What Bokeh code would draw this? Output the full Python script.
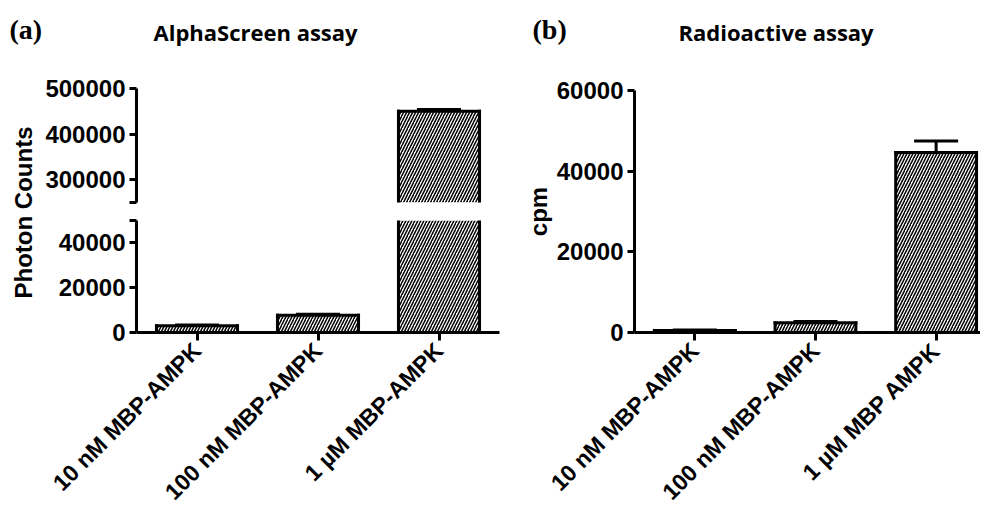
import math
from bokeh.plotting import figure
from bokeh.models import (Range1d, FixedTicker, Whisker, TeeHead, ColumnDataSource,
                          BasicTickFormatter)
from bokeh.layouts import row, column
from bokeh.embed import file_html
from bokeh.resources import INLINE
from bokeh.core.properties import value

# ---------------- data ----------------
categories_a = ["10 nM MBP-AMPK", "100 nM MBP-AMPK", "1 \u00b5M MBP-AMPK"]
photon_counts = [3000, 7700, 450000]
photon_sem = [400, 500, 4000]

categories_b = ["10 nM MBP-AMPK", "100 nM MBP-AMPK", "1 \u00b5M MBP AMPK"]
cpm_values = [500, 2400, 44600]
cpm_sem = [150, 300, 2900]

ticks_a_upper = [250000, 300000, 400000, 500000]
ticks_a_lower = [0, 20000, 40000, 50000]
ticks_b = [0, 20000, 40000, 60000]

titles = ["AlphaScreen assay", "Radioactive assay"]
panel_tags = ["(a)", "(b)"]
y_labels = ["Photon Counts", "cpm"]

# ---------------- style ----------------
SANS = "Liberation Sans"
TICK_FONT = "24px"
CAT_FONT = "23px"
PX_PER_CAT = 121.0
BAR_W = 0.67
FRAME_W_A = 363
FRAME_W_B = 347


def base_style(p):
    p.outline_line_color = None
    p.grid.visible = False
    p.background_fill_color = "white"
    p.border_fill_color = "white"


def style_axis(ax):
    ax.axis_line_width = 3
    ax.axis_line_color = "black"
    ax.major_tick_line_width = 3
    ax.major_tick_line_color = "black"
    ax.major_tick_out = 7
    ax.major_tick_in = 0
    ax.minor_tick_line_color = None
    ax.major_label_text_font = SANS
    ax.major_label_text_font_style = "bold"
    ax.major_label_text_color = "black"


def draw_bars(p, cats, vals, errs, lo, hi):
    """Bars for one axis segment [lo, hi]; outlines drawn only where they fall inside."""
    pos = list(range(1, len(cats) + 1))
    half = BAR_W / 2
    shown = [(x, v) for x, v in zip(pos, vals) if v > lo]
    bars = ColumnDataSource(dict(x=[s[0] for s in shown], top=[s[1] for s in shown],
                                 left=[s[0] - half for s in shown],
                                 right=[s[0] + half for s in shown]))
    p.vbar(x="x", top="top", bottom=0, width=BAR_W, source=bars,
           fill_color="white", line_color=None,
           hatch_pattern="/", hatch_color="black", hatch_scale=6, hatch_weight=1.5)
    for side in ("left", "right"):
        p.segment(x0=side, y0=0, x1=side, y1="top", source=bars,
                  line_color="black", line_width=3, line_cap="square")
    tops = [(x, v) for x, v in zip(pos, vals) if lo <= v <= hi]
    top_src = ColumnDataSource(dict(top=[t[1] for t in tops],
                                    left=[t[0] - half for t in tops],
                                    right=[t[0] + half for t in tops]))
    p.segment(x0="left", y0="top", x1="right", y1="top", source=top_src,
              line_color="black", line_width=3, line_cap="square")
    errs_in = [(x, v, e) for x, v, e in zip(pos, vals, errs) if lo <= v <= hi]
    err_src = ColumnDataSource(dict(x=[t[0] for t in errs_in],
                                    lower=[t[1] for t in errs_in],
                                    upper=[t[1] + t[2] for t in errs_in]))
    p.add_layout(Whisker(source=err_src, base="x", lower="lower", upper="upper",
                         dimension="height", line_color="black", line_width=3,
                         lower_head=None,
                         upper_head=TeeHead(size=44, line_color="black", line_width=3)))


def y_ticks(ax, ticks, blank=None):
    ax.ticker = FixedTicker(ticks=ticks)
    ax.formatter = BasicTickFormatter(use_scientific=False)
    if blank is not None:
        ax.major_label_overrides = {blank: ""}
    ax.major_label_text_font_size = TICK_FONT
    ax.major_label_standoff = 4


def x_cats(ax, cats):
    pos = list(range(1, len(cats) + 1))
    ax.ticker = FixedTicker(ticks=pos)
    ax.major_label_overrides = {p_: c for p_, c in zip(pos, cats)}
    ax.major_label_orientation = math.pi / 4
    ax.major_label_text_font_size = CAT_FONT
    ax.major_label_standoff = 6
    ax.major_tick_out = 8


# ---------------- header ----------------
TOTAL_W = 980
header = figure(width=TOTAL_W, height=68, x_range=Range1d(0, TOTAL_W), y_range=Range1d(68, 0),
                output_backend="svg", toolbar_location=None, min_border=0,
                x_axis_location=None, y_axis_location=None)
base_style(header)
header.text(x=[9, 532], y=[29, 29], text=panel_tags,
            text_font=value("Liberation Serif"), text_font_style="bold",
            text_font_size="28px", text_baseline="middle", text_align="left",
            text_color="black")
header.text(x=[153, 678], y=[31, 31], text=titles,
            text_font=value("Open Sans"), text_font_style="bold",
            text_font_size="22px", text_baseline="alphabetic", text_align="left",
            text_color="black")

# ---------------- y label for panel a (spans both segments) ----------------
label_fig = figure(frame_width=4, frame_height=244, x_range=Range1d(0, 1),
                   y_range=Range1d(0, 1), output_backend="svg", toolbar_location=None,
                   x_axis_location=None, min_border_left=38, min_border_right=0,
                   min_border_top=20, min_border_bottom=0)
base_style(label_fig)
lax = label_fig.yaxis[0]
lax.ticker = FixedTicker(ticks=[])
lax.axis_line_color = None
lax.major_tick_out = 0
lax.major_tick_in = 0
lax.minor_tick_out = 0
lax.minor_tick_in = 0
lax.major_label_text_font_size = "0px"
lax.axis_label = y_labels[0]
lax.axis_label_text_font = SANS
lax.axis_label_text_font_style = "bold"
lax.axis_label_text_font_size = "24px"
lax.axis_label_text_color = "black"
lax.axis_label_standoff = 2

# ---------------- panel a: upper segment ----------------
xr_a = Range1d(0.5, 0.5 + FRAME_W_A / PX_PER_CAT)
UP_LO, UP_HI = 250000, 500000
top_a = figure(frame_width=FRAME_W_A, frame_height=114, x_range=xr_a,
               y_range=Range1d(UP_LO, UP_HI), output_backend="svg",
               toolbar_location=None, x_axis_location=None,
               min_border_left=93, min_border_right=4, min_border_top=20,
               min_border_bottom=9)
base_style(top_a)
draw_bars(top_a, categories_a, photon_counts, photon_sem, UP_LO, UP_HI)
style_axis(top_a.yaxis[0])
y_ticks(top_a.yaxis[0], ticks_a_upper, UP_LO)

# ---------------- panel a: lower segment ----------------
LOW_LO, LOW_HI = 0, 50000
bot_a = figure(frame_width=FRAME_W_A, frame_height=112, x_range=xr_a,
               y_range=Range1d(LOW_LO, LOW_HI), output_backend="svg",
               toolbar_location=None,
               min_border_left=93, min_border_right=4, min_border_top=9,
               min_border_bottom=0)
base_style(bot_a)
draw_bars(bot_a, categories_a, photon_counts, photon_sem, LOW_LO - 1, LOW_HI)
style_axis(bot_a.yaxis[0])
y_ticks(bot_a.yaxis[0], ticks_a_lower, LOW_HI)
style_axis(bot_a.xaxis[0])
x_cats(bot_a.xaxis[0], categories_a)

# ---------------- panel b ----------------
fig_b = figure(frame_width=FRAME_W_B, frame_height=242,
               x_range=Range1d(0.5, 0.5 + FRAME_W_B / PX_PER_CAT),
               y_range=Range1d(0, 60000), output_backend="svg",
               toolbar_location=None,
               min_border_left=131, min_border_right=0, min_border_top=22,
               min_border_bottom=0)
base_style(fig_b)
draw_bars(fig_b, categories_b, cpm_values, cpm_sem, -1, 60000)
style_axis(fig_b.yaxis[0])
y_ticks(fig_b.yaxis[0], ticks_b)
bax = fig_b.yaxis[0]
bax.axis_label = y_labels[1]
bax.axis_label_text_font = SANS
bax.axis_label_text_font_style = "bold"
bax.axis_label_text_font_size = "24px"
bax.axis_label_text_color = "black"
bax.axis_label_standoff = 2
style_axis(fig_b.xaxis[0])
x_cats(fig_b.xaxis[0], categories_b)

root = column(header, row(label_fig, column(top_a, bot_a), fig_b),
              width=TOTAL_W, height=506, styles={"overflow": "hidden"})

open("out.html", "w").write(file_html(root, INLINE))
